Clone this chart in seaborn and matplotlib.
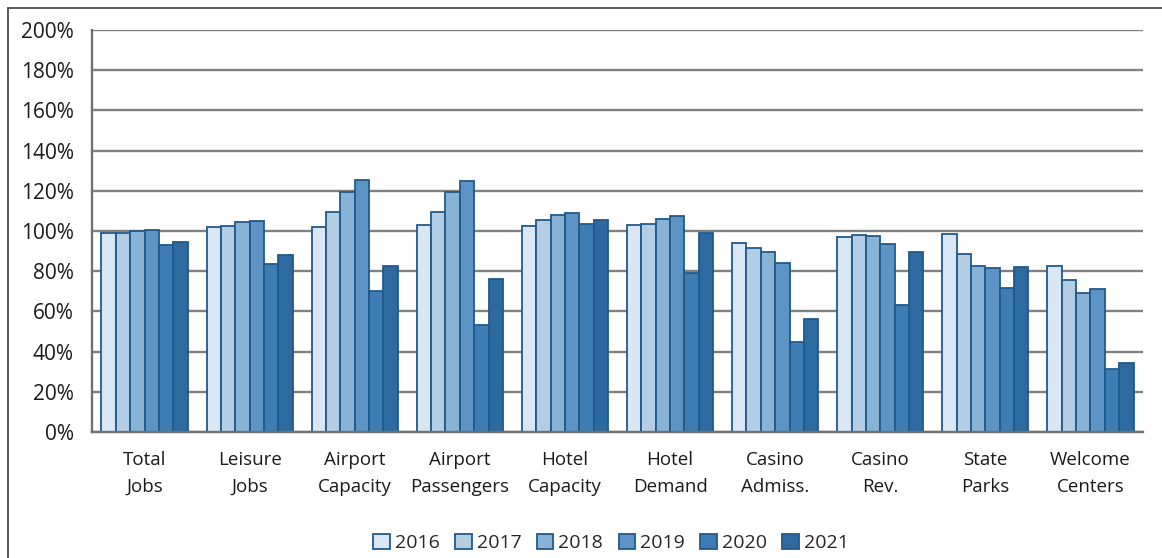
import matplotlib
matplotlib.use("Agg")
import matplotlib.pyplot as plt
from matplotlib.patches import Rectangle
from matplotlib.ticker import MultipleLocator, PercentFormatter
import numpy as np
import pandas as pd
import seaborn as sns

categories = ["Total\nJobs", "Leisure\nJobs", "Airport\nCapacity", "Airport\nPassengers",
              "Hotel\nCapacity", "Hotel\nDemand", "Casino\nAdmiss.", "Casino\nRev.",
              "State\nParks", "Welcome\nCenters"]
years = ["2016", "2017", "2018", "2019", "2020", "2021"]

v2016 = [99.0, 101.8, 102.1, 102.8, 102.5, 103.0, 94.2, 97.2, 98.5, 82.6]
v2017 = [99.0, 102.5, 109.4, 109.4, 105.6, 103.3, 91.4, 98.0, 88.7, 75.6]
v2018 = [100.0, 104.3, 119.6, 119.4, 107.8, 105.8, 89.6, 97.7, 82.6, 69.2]
v2019 = [100.3, 105.0, 125.4, 124.9, 108.8, 107.5, 84.2, 93.5, 81.7, 71.0]
v2020 = [93.0, 83.6, 70.3, 53.1, 103.3, 79.3, 44.6, 63.2, 71.8, 31.2]
v2021 = [94.4, 87.9, 82.6, 76.1, 105.6, 99.2, 56.2, 89.7, 82.2, 34.3]

series = [v2016, v2017, v2018, v2019, v2020, v2021]
colors = ["#d8e7f3", "#b3cee4", "#89b3d6", "#5b94c5", "#3d7db3", "#2d6a9f"]

df = pd.DataFrame({
    "category": np.repeat([categories], len(years), axis=0).ravel(),
    "year": np.repeat(years, len(categories)),
    "value": np.concatenate(series),
})

sns.set_theme(style="white")
plt.rcParams["font.family"] = ["Open Sans", "DejaVu Sans"]

fig = plt.figure(figsize=(11.62, 5.58), dpi=100)
ax = fig.add_axes([92 / 1162, 1 - 432 / 558, (1143 - 92) / 1162, (432 - 30) / 558])

sns.barplot(data=df, x="category", y="value", hue="year", order=categories,
            hue_order=years, palette=colors, saturation=1, width=0.82, gap=0,
            edgecolor="#21598a", linewidth=1.3, ax=ax, legend=True)

ax.set_ylim(0, 200)
ax.set_xlim(-0.5, len(categories) - 0.5)
ax.yaxis.set_major_locator(MultipleLocator(20))
ax.yaxis.set_major_formatter(PercentFormatter(decimals=0))
ax.set_axisbelow(True)
ax.grid(axis="y", color="#808080", linewidth=1.7)
ax.grid(axis="x", visible=False)
ax.set_xlabel("")
ax.set_ylabel("")

for side in ["top", "right"]:
    ax.spines[side].set_visible(False)
for side in ["left", "bottom"]:
    ax.spines[side].set_color("#707070")
    ax.spines[side].set_linewidth(1.7)

ax.set_xticks(np.arange(len(categories)))
ax.set_xticklabels(categories, fontsize=13.5, color="#1a1a1a", linespacing=1.6)
ax.set_xticks(np.arange(len(categories) + 1) - 0.5, minor=True)
ax.tick_params(axis="x", which="major", length=0, pad=14)
ax.tick_params(axis="x", which="minor", length=6, width=1.5, color="#707070", direction="out")
ax.tick_params(axis="y", length=6, width=1.5, color="#707070", direction="out",
               labelsize=15, labelcolor="#1a1a1a", pad=7)

handles, labels = ax.get_legend_handles_labels()
ax.get_legend().remove()
fig.legend(handles, labels, loc="center", bbox_to_anchor=(611 / 1162, 1 - 543 / 558),
           ncol=6, frameon=False, fontsize=14, handlelength=0.85, handleheight=0.85,
           handletextpad=0.25, columnspacing=0.8)

# outer frame running off the right and bottom edges
fig.patches.append(Rectangle((8 / 1162, -0.05), 1.1, 1 - 8 / 558 + 0.05,
                             transform=fig.transFigure, fill=False,
                             edgecolor="#5a5a5a", linewidth=1.4))

fig.savefig("out.png", dpi=100)
